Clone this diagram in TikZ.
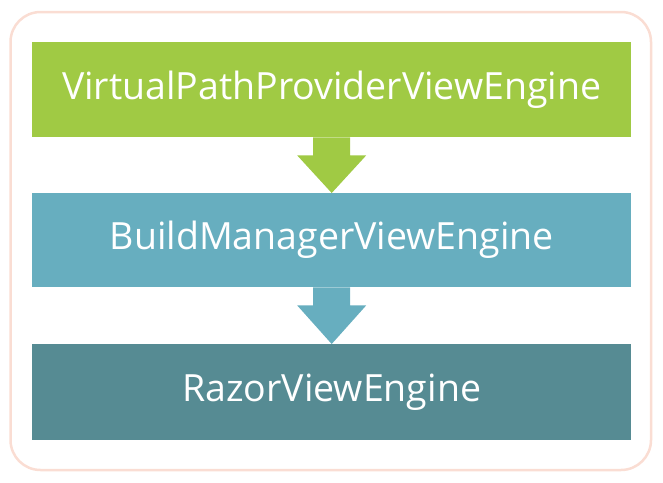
\documentclass[tikz,border=0pt]{standalone}
\usepackage{fontspec}
\setmainfont{Open Sans}
\usetikzlibrary{calc}
\definecolor{cgreen}{HTML}{A0CA44}
\definecolor{cblue}{HTML}{67AEBF}
\definecolor{cdark}{HTML}{568B93}
\definecolor{cframe}{HTML}{FADDD3}
\tikzset{
  layer/.style={minimum width=599pt, inner sep=0pt, text=white, font=\fontsize{37.5}{44}\selectfont},
}
\newcommand{\flowarrow}[3]{%
  \fill[#3] ($(#1.south)+(-18.5,0)$) -- ($(#1.south)+(-18.5,18)$) -- ($(#1.south)+(-34.5,18)$)
    -- (#2.north) -- ($(#1.south)+(34.5,18)$) -- ($(#1.south)+(18.5,18)$) -- ($(#1.south)+(18.5,0)$) -- cycle;}
\begin{document}
\begin{tikzpicture}[x=1pt,y=-1pt]
\useasboundingbox (0,0) rectangle (663,482);
\draw[cframe, line width=2.5pt, rounded corners=30pt] (10.5,12) rectangle (651,470);
\node[layer, fill=cgreen, minimum height=95pt, anchor=north west] (vp) at (32,42) {VirtualPathProviderViewEngine};
\node[layer, fill=cblue, minimum height=94pt, anchor=north west] (bm) at (32,193) {BuildManagerViewEngine};
\node[layer, fill=cdark, minimum height=96pt, anchor=north west] (rv) at (32,344) {RazorViewEngine};
\flowarrow{vp}{bm}{cgreen}
\flowarrow{bm}{rv}{cblue}
\end{tikzpicture}
\end{document}
